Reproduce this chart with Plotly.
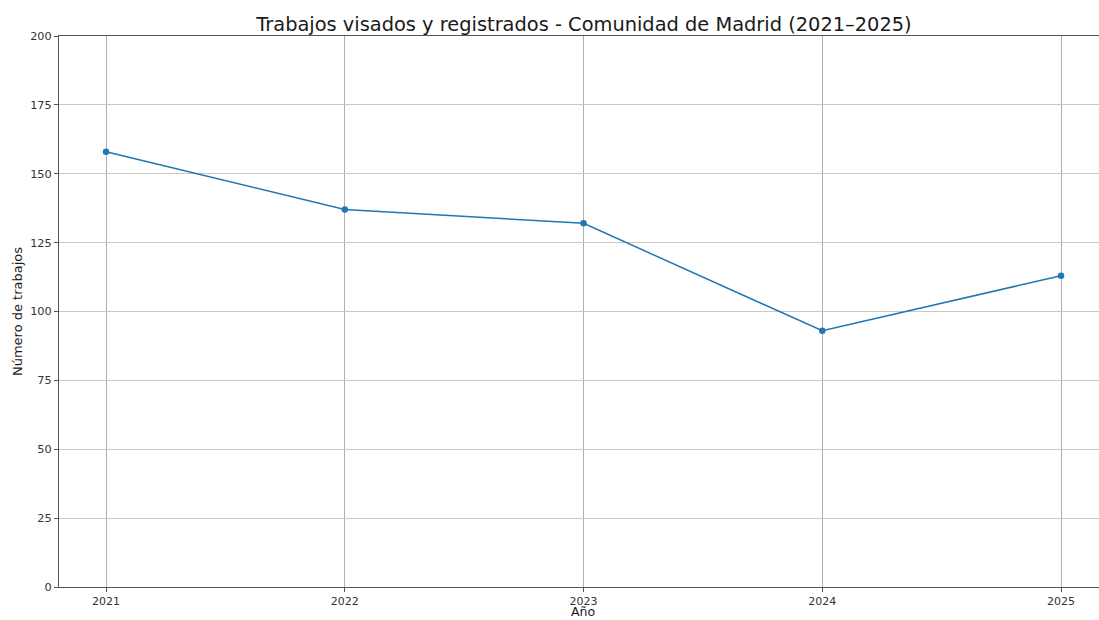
import plotly.graph_objects as go

years = [2021, 2022, 2023, 2024, 2025]
trabajos = [158, 137, 132, 93, 113]
y_ticks = [0, 25, 50, 75, 100, 125, 150, 175, 200]

fig = go.Figure()
fig.add_trace(go.Scatter(
    x=years, y=trabajos, mode="lines+markers",
    line=dict(color="#1f77b4", width=1.5),
    marker=dict(color="#1f77b4", size=6.5),
    showlegend=False,
))

font_family = "DejaVu Sans"
fig.update_layout(
    width=1099, height=620,
    margin=dict(l=59, r=0, t=36, b=33),
    paper_bgcolor="white", plot_bgcolor="white",
    font=dict(family=font_family, color="#262626"),
    title=dict(text="Trabajos visados y registrados - Comunidad de Madrid (2021–2025)",
               x=584/1099, xanchor="center", y=1-24/620, yanchor="middle",
               font=dict(size=19.4, color="#1a1a1a", family=font_family)),
)
fig.update_xaxes(
    range=[2020.803, 2025.159], tickvals=years, ticktext=[str(y) for y in years],
    showgrid=True, gridcolor="#b0b0b0", gridwidth=0.8,
    showline=True, linecolor="#555555", linewidth=1, mirror=True,
    ticks="outside", ticklen=4, tickcolor="#555555",
    tickfont=dict(size=11, color="#333333"),
    zeroline=False, automargin=False,
)
fig.update_yaxes(
    range=[0, 200], tickvals=y_ticks,
    showgrid=True, gridcolor="#c8c8c8", gridwidth=0.8,
    showline=True, linecolor="#555555", linewidth=1,
    ticks="outside", ticklen=4, tickcolor="#555555",
    tickfont=dict(size=11.3, color="#333333"),
    title=dict(text="Número de trabajos", font=dict(size=13, color="#1a1a1a"), standoff=4),
    zeroline=False, automargin=False,
)
# x-axis title placed just under the tick labels
fig.add_annotation(
    text="Año", xref="paper", yref="paper",
    x=(583 - 59) / (1099 - 59), y=(587 - 620) / 551,
    xanchor="center", yanchor="bottom", showarrow=False,
    font=dict(size=12.5, color="#1a1a1a", family=font_family), borderpad=0,
)

fig.write_html(
    "out.html",
    config={"displayModeBar": False},
    post_script="document.body.style.margin='0';document.body.style.overflow='hidden';",
)
